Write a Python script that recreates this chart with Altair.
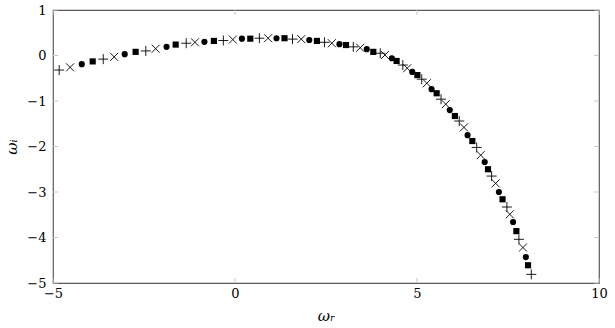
import altair as alt
import pandas as pd

omega_r = [-4.83, -4.53, -4.21, -3.91, -3.62, -3.32, -3.03, -2.73, -2.45, -2.18,
           -1.88, -1.63, -1.34, -1.10, -0.84, -0.58, -0.32, -0.06, 0.19, 0.42,
           0.67, 0.91, 1.14, 1.36, 1.58, 1.82, 2.04, 2.25, 2.46, 2.66,
           2.87, 3.05, 3.25, 3.44, 3.62, 3.80, 3.99, 4.12, 4.31, 4.44,
           4.61, 4.73, 4.87, 5.01, 5.13, 5.27, 5.40, 5.54, 5.66, 5.79,
           5.90, 6.04, 6.16, 6.29, 6.39, 6.52, 6.64, 6.75, 6.86, 6.95,
           7.05, 7.16, 7.25, 7.35, 7.47, 7.55, 7.64, 7.73, 7.80, 7.91,
           7.99, 8.05, 8.14]
omega_i = [-0.32, -0.26, -0.19, -0.13, -0.08, -0.03, 0.03, 0.08, 0.10, 0.15,
           0.19, 0.24, 0.27, 0.29, 0.30, 0.32, 0.33, 0.35, 0.37, 0.37,
           0.38, 0.38, 0.38, 0.38, 0.36, 0.36, 0.34, 0.32, 0.29, 0.27,
           0.25, 0.23, 0.19, 0.17, 0.14, 0.08, 0.05, 0.01, -0.06, -0.12,
           -0.21, -0.28, -0.36, -0.43, -0.52, -0.61, -0.74, -0.83, -0.96, -1.07,
           -1.20, -1.33, -1.44, -1.58, -1.75, -1.88, -2.02, -2.19, -2.34, -2.50,
           -2.65, -2.81, -3.00, -3.16, -3.33, -3.49, -3.66, -3.86, -4.04, -4.22,
           -4.43, -4.61, -4.81]
marker_cycle = ["plus", "cross", "dot", "square"]
markers = [marker_cycle[i % 4] for i in range(len(omega_r))]

x_ticks = [-5, 0, 5, 10]
y_ticks = [-5, -4, -3, -2, -1, 0, 1]

df = pd.DataFrame({"wr": omega_r, "wi": omega_i, "m": markers})
xt = pd.DataFrame({"t": x_ticks})
yt = pd.DataFrame({"t": y_ticks})

W, H = 546, 273
FONT = "DejaVu Serif"
xs = alt.Scale(domain=[-5, 10], nice=False, zero=False)
ys = alt.Scale(domain=[-5, 1], nice=False, zero=False)

shape_scale = alt.Scale(
    domain=["plus", "cross", "dot", "square"],
    range=["M-1,0L1,0M0,-1L0,1", "M-0.8,-0.8L0.8,0.8M-0.8,0.8L0.8,-0.8", "circle", "square"],
)

ax_common = dict(
    grid=False, domain=False, ticks=False, labelFlush=False,
    labelFont=FONT, labelFontSize=13, labelColor="black",
    titleFont=FONT, titleFontSize=15, titleFontStyle="italic", titleFontWeight="normal",
    titleColor="black",
)
xaxis = alt.Axis(values=x_ticks, title="ωᵣ", labelPadding=4, titlePadding=8, **ax_common)
yaxis = alt.Axis(values=y_ticks, title="ωᵢ", labelPadding=7, titlePadding=7, **ax_common)

base = alt.Chart(df)

stroked = base.transform_filter(
    alt.FieldOneOfPredicate(field="m", oneOf=["plus", "cross"])
).mark_point(filled=False, color="black", strokeWidth=0.9, size=100, opacity=1).encode(
    x=alt.X("wr:Q", scale=xs, axis=xaxis),
    y=alt.Y("wi:Q", scale=ys, axis=yaxis),
    shape=alt.Shape("m:N", scale=shape_scale, legend=None),
)
filled = base.transform_filter(
    alt.FieldOneOfPredicate(field="m", oneOf=["dot", "square"])
).mark_point(filled=True, color="black", opacity=1, size=38).encode(
    x=alt.X("wr:Q", scale=xs, axis=xaxis),
    y=alt.Y("wi:Q", scale=ys, axis=yaxis),
    shape=alt.Shape("m:N", scale=shape_scale, legend=None),
)

TL = 5
tick_color = "#c8c8c8"
xb = alt.Chart(xt).mark_rule(color=tick_color, strokeWidth=1).encode(
    x=alt.X("t:Q", scale=xs, axis=xaxis), y=alt.value(H), y2=alt.value(H - TL))
xtp = alt.Chart(xt).mark_rule(color=tick_color, strokeWidth=1).encode(
    x=alt.X("t:Q", scale=xs, axis=xaxis), y=alt.value(0), y2=alt.value(TL))
yl = alt.Chart(yt).mark_rule(color=tick_color, strokeWidth=1).encode(
    y=alt.Y("t:Q", scale=ys, axis=yaxis), x=alt.value(0), x2=alt.value(TL))
yr = alt.Chart(yt).mark_rule(color=tick_color, strokeWidth=1).encode(
    y=alt.Y("t:Q", scale=ys, axis=yaxis), x=alt.value(W), x2=alt.value(W - TL))

chart = alt.layer(xb, xtp, yl, yr, stroked, filled).properties(
    width=W, height=H,
    autosize=alt.AutoSizeParams(type="none"),
    padding={"left": 53, "top": 10, "right": 16, "bottom": 45},
    background="white",
).configure(font=FONT).configure_view(stroke="#5a5a5a", strokeWidth=1.2).configure_axis(**ax_common)

chart.save("out.html", embed_options={"renderer": "svg", "actions": False})
